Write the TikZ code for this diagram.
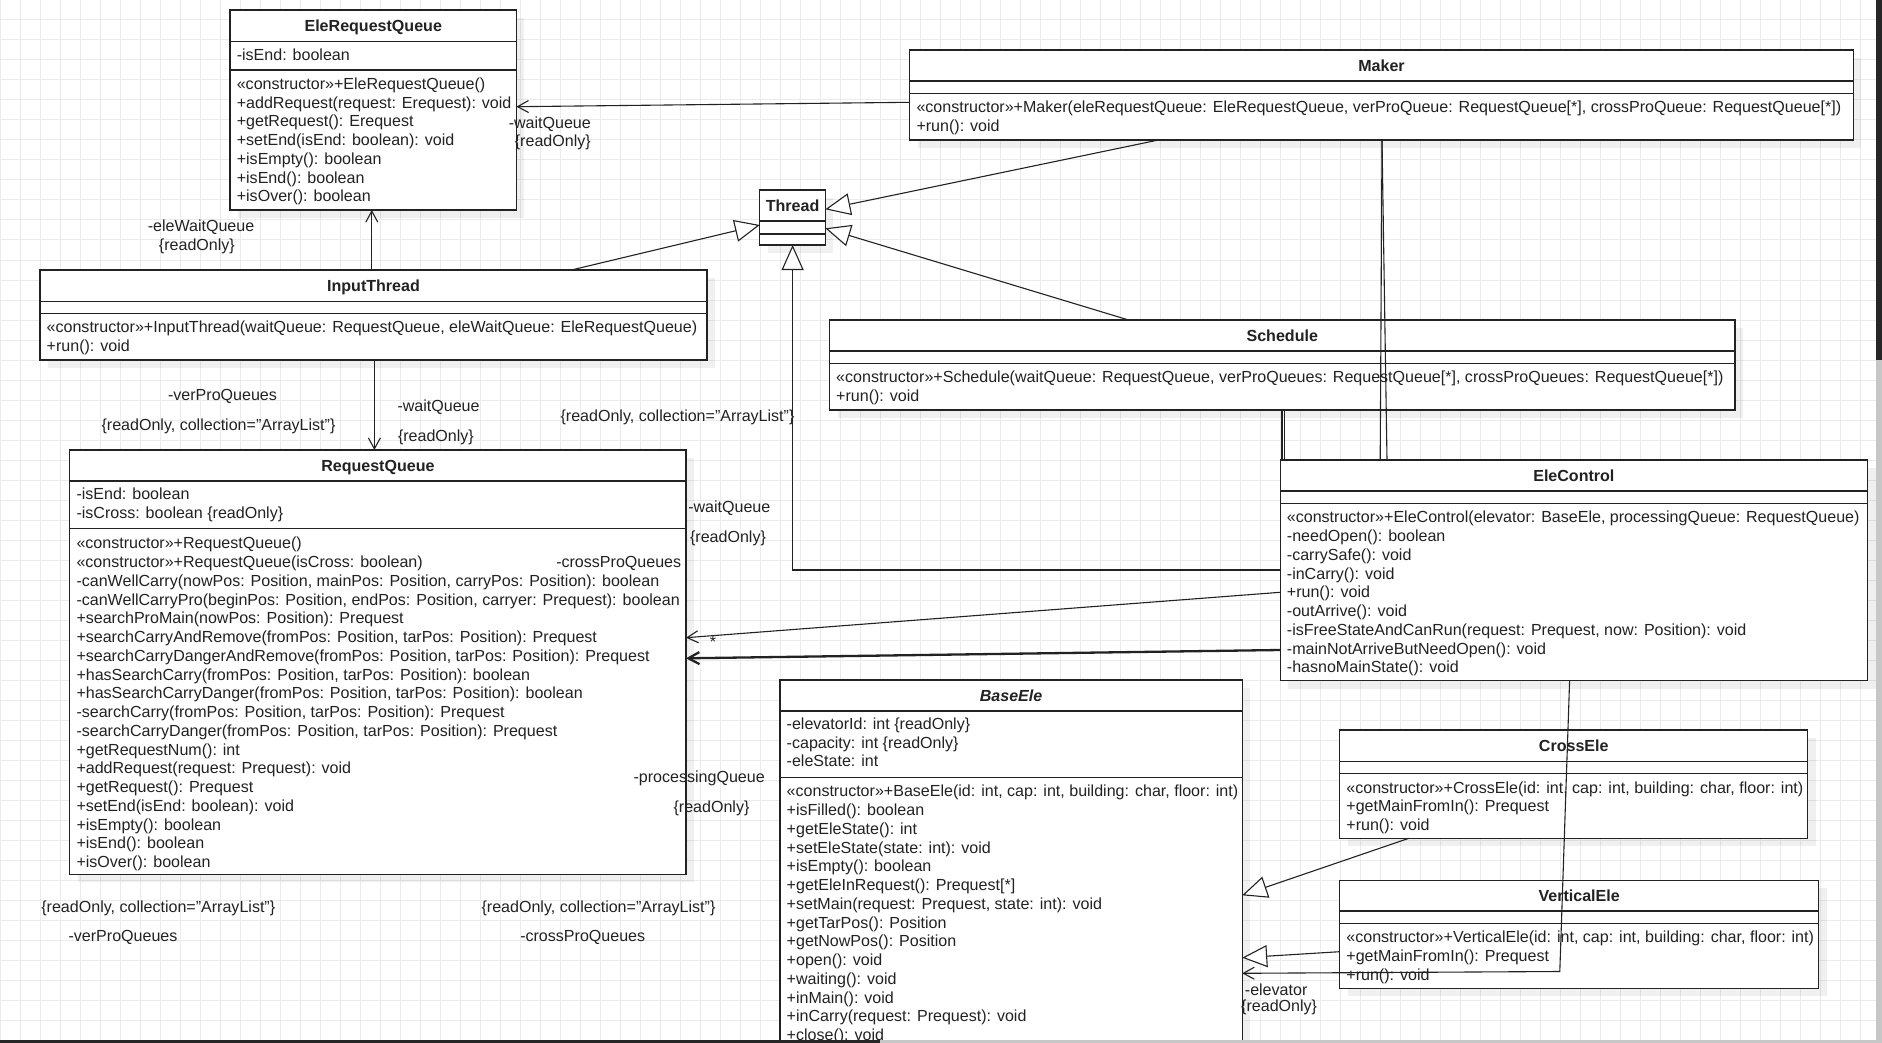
\documentclass[tikz,border=0pt]{standalone}
\usepackage{fontspec}
\setmainfont{Liberation Sans}
\usetikzlibrary{arrows.meta}
\definecolor{ink}{HTML}{222222}
\definecolor{gridc}{HTML}{EBEBEB}
\tikzset{
 classbox/.style={draw=ink, line width=1.3pt, fill=white, inner sep=0pt, outer sep=0pt, anchor=north west},
 sepline/.style={ink, line width=1.3pt},
 titletext/.style={font=\fontsize{16.05}{18.75}\selectfont\bfseries, text=ink, inner sep=0pt, text height=12pt, text depth=3.5pt, yshift=-1.3pt},
 memtext/.style={font=\fontsize{16.05}{18.75}\selectfont, text=ink, inner sep=0pt, anchor=north west, align=left, yshift=-1.4pt},
 lbl/.style={font=\fontsize{16.05}{18.75}\selectfont, text=ink, inner sep=0pt, text height=12pt, text depth=3.5pt, yshift=-1.5pt},
 conn/.style={ink, line width=1.1pt},
 assoc/.style={conn, -{Straight Barb[length=11pt,width=12pt]}},
 gen/.style={conn, -{Triangle[length=25pt,width=22pt,fill=white]}},
}
\newcommand\umlclass[8]{%
 \fill[black,opacity=0.06] ({#2+8},{#3+8}) rectangle ({#4+8},{#5+8});
 \node[classbox, minimum width={(#4-#2)*1pt}, minimum height={(#5-#3)*1pt}] (#1) at (#2,#3) {};
 \draw[sepline] (#1.west |- 0,#6) -- (#1.east |- 0,#6);
 \draw[sepline] (#1.west |- 0,#7) -- (#1.east |- 0,#7);
 \node[titletext] (#1-t) at ({(#2+#4)/2},{(#3+#6)/2}) {#8};
}
\begin{document}
\begin{tikzpicture}[x=1pt,y=-1pt]
\useasboundingbox (0,0) rectangle (1882,1043);
\clip (0,0) rectangle (1882,1043);
\fill[white] (0,0) rectangle (1882,1043);
\foreach \gx in {0,20,...,1860} \draw[gridc, line width=1pt] (\gx,0) -- (\gx,1043);
\foreach \gy in {0,20,...,1040} \draw[gridc, line width=1pt] (0,\gy) -- (1876,\gy);

% ---------- classes ----------
\umlclass{erq}{230.1}{10}{516.4}{210}{41.3}{70}{EleRequestQueue}
\node[memtext] (erq-a) at (236.6,45.4) {\strut -isEnd: boolean};
\node[memtext] (erq-m) at (236.6,74.7) {\strut «constructor»+EleRequestQueue()\\
+addRequest(request: Erequest): void\\
+getRequest(): Erequest\\
+setEnd(isEnd: boolean): void\\
+isEmpty(): boolean\\
+isEnd(): boolean\\
+isOver(): boolean};

\umlclass{maker}{909.8}{50}{1853.2}{140}{81}{93.7}{Maker}
\node[memtext] (maker-m) at (916.3,98.1) {\strut «constructor»+Maker(eleRequestQueue: EleRequestQueue, verProQueue: RequestQueue[*], crossProQueue: RequestQueue[*])\\
+run(): void};

\umlclass{thread}{759.8}{190}{825.4}{245}{221}{234}{Thread}

\umlclass{input}{40}{270}{707}{360}{301.3}{313.3}{InputThread}
\node[memtext] (input-m) at (46.5,318.1) {\strut «constructor»+InputThread(waitQueue: RequestQueue, eleWaitQueue: EleRequestQueue)\\
+run(): void};

\umlclass{sched}{829.5}{320}{1735}{410}{351}{363.3}{Schedule}
\node[memtext] (sched-m) at (836,368.1) {\strut «constructor»+Schedule(waitQueue: RequestQueue, verProQueues: RequestQueue[*], crossProQueues: RequestQueue[*])\\
+run(): void};

\umlclass{rq}{69.8}{450}{686}{874.3}{481}{528.3}{RequestQueue}
\node[memtext] (rq-a) at (76.3,484.7) {\strut -isEnd: boolean\\
-isCross: boolean \{readOnly\}};
\node[memtext] (rq-m) at (76.3,534.1) {\strut «constructor»+RequestQueue()\\
«constructor»+RequestQueue(isCross: boolean)\\
-canWellCarry(nowPos: Position, mainPos: Position, carryPos: Position): boolean\\
-canWellCarryPro(beginPos: Position, endPos: Position, carryer: Prequest): boolean\\
+searchProMain(nowPos: Position): Prequest\\
+searchCarryAndRemove(fromPos: Position, tarPos: Position): Prequest\\
+searchCarryDangerAndRemove(fromPos: Position, tarPos: Position): Prequest\\
+hasSearchCarry(fromPos: Position, tarPos: Position): boolean\\
+hasSearchCarryDanger(fromPos: Position, tarPos: Position): boolean\\
-searchCarry(fromPos: Position, tarPos: Position): Prequest\\
-searchCarryDanger(fromPos: Position, tarPos: Position): Prequest\\
+getRequestNum(): int\\
+addRequest(request: Prequest): void\\
+getRequest(): Prequest\\
+setEnd(isEnd: boolean): void\\
+isEmpty(): boolean\\
+isEnd(): boolean\\
+isOver(): boolean};

\umlclass{elec}{1280.2}{460}{1867.5}{680.7}{491}{503.3}{EleControl}
\node[memtext] (elec-m) at (1286.7,508.1) {\strut «constructor»+EleControl(elevator: BaseEle, processingQueue: RequestQueue)\\
-needOpen(): boolean\\
-carrySafe(): void\\
-inCarry(): void\\
+run(): void\\
-outArrive(): void\\
-isFreeStateAndCanRun(request: Prequest, now: Position): void\\
-mainNotArriveButNeedOpen(): void\\
-hasnoMainState(): void};

\umlclass{base}{780}{680}{1242.2}{1090}{711}{777.3}{\itshape BaseEle}
\node[memtext] (base-a) at (786.5,714.7) {\strut -elevatorId: int \{readOnly\}\\
-capacity: int \{readOnly\}\\
-eleState: int};
\node[memtext] (base-m) at (786.5,782.1) {\strut «constructor»+BaseEle(id: int, cap: int, building: char, floor: int)\\
+isFilled(): boolean\\
+getEleState(): int\\
+setEleState(state: int): void\\
+isEmpty(): boolean\\
+getEleInRequest(): Prequest[*]\\
+setMain(request: Prequest, state: int): void\\
+getTarPos(): Position\\
+getNowPos(): Position\\
+open(): void\\
+waiting(): void\\
+inMain(): void\\
+inCarry(request: Prequest): void\\
+close(): void};

\umlclass{cross}{1339.7}{730}{1807.8}{838.3}{761.3}{773.3}{CrossEle}
\node[memtext] (cross-m) at (1346.2,778.4) {\strut «constructor»+CrossEle(id: int, cap: int, building: char, floor: int)\\
+getMainFromIn(): Prequest\\
+run(): void};

\umlclass{vert}{1339.7}{880.3}{1818.6}{988.3}{911}{923.3}{VerticalEle}
\node[memtext] (vert-m) at (1346.2,928.1) {\strut «constructor»+VerticalEle(id: int, cap: int, building: char, floor: int)\\
+getMainFromIn(): Prequest\\
+run(): void};

% ---------- connectors ----------
\draw[assoc] (maker.west |- 0,102.3) -- (erq.east |- 0,106.7);
\draw[assoc] (input.north -| 371.8,0) -- (erq.south -| 371.8,0);
\draw[assoc] (input.south -| 374.4,0) -- (rq.north -| 374.4,0);
\draw[gen] (maker.south -| 1158.5,0) -- (thread.east |- 0,209.3);
\draw[gen] (input.north -| 571.4,0) -- (thread.west |- 0,225);
\draw[gen] (sched.north -| 1128.6,0) -- (thread.east |- 0,228.3);
\draw[gen] (elec.west |- 0,570) -| (thread.south);
\draw[conn] (sched.south -| 1282,0) -- (elec.north -| 1282,0);
\draw[conn] (sched.south -| 1284.6,0) -- (elec.north -| 1284.6,0);
\draw[conn] (maker.south -| 1382,0) -- (elec.north -| 1380.2,0);
\draw[conn] (maker.south -| 1382,0) -- (elec.north -| 1387,0);
\draw[assoc] (elec.west |- 0,592.3) -- (rq.east |- 0,637.7);
\draw[assoc, line width=2.3pt] (elec.west |- 0,650) -- (rq.east |- 0,658.3);
\coordinate (bend) at (1559.8,971.5);
\draw[assoc] (elec.south -| 1569.6,0) -- (bend) -- (base.east |- 0,973.3);
\draw[gen] (cross.south -| 1408.8,0) -- (base.east |- 0,895.3);
\draw[gen] (vert.west |- 0,951.7) -- (base.east |- 0,957.7);

% ---------- labels ----------
\node[lbl] (l1) at (549.8,123) {-waitQueue};
\node[lbl] (l2) at (552.8,141) {\{readOnly\}};
\node[lbl] (l3) at (201,225.7) {-eleWaitQueue};
\node[lbl] (l4) at (196.9,244.9) {\{readOnly\}};
\node[lbl] (l5) at (222.5,395) {-verProQueues};
\node[lbl] (l6) at (218.5,425) {\{readOnly, collection="ArrayList"\}};
\node[lbl, anchor=west] (l7) at (397.3,405.7) {-waitQueue};
\node[lbl, anchor=west] (l8) at (397.8,435.7) {\{readOnly\}};
\node[lbl] (l9) at (677.5,415.5) {\{readOnly, collection="ArrayList"\}};
\node[lbl] (l10) at (729.3,506.5) {-waitQueue};
\node[lbl] (l11) at (728,536.5) {\{readOnly\}};
\node[lbl] (l12) at (618.7,562) {-crossProQueues};
\node[lbl] (l13) at (713,642) {*};
\node[lbl] (l14) at (699.2,776.6) {-processingQueue};
\node[lbl] (l15) at (711.5,806.6) {\{readOnly\}};
\node[lbl] (l16) at (158.3,906.5) {\{readOnly, collection="ArrayList"\}};
\node[lbl] (l17) at (123,936) {-verProQueues};
\node[lbl] (l18) at (598.5,906.5) {\{readOnly, collection="ArrayList"\}};
\node[lbl] (l19) at (582.7,936) {-crossProQueues};
\node[lbl, anchor=west] (l20) at (1244.7,990.2) {-elevator};
\node[lbl, anchor=west] (l21) at (1241,1005.9) {\{readOnly\}};

% ---------- window scrollbars ----------
\fill[black!85] (1876,0) rectangle (1882,360);
\fill[black!22] (1876,360) rectangle (1882,1043);
\fill[black!85] (0,1040) rectangle (880,1043);
\fill[black!22] (880,1040) rectangle (1876,1043);
\end{tikzpicture}
\end{document}
